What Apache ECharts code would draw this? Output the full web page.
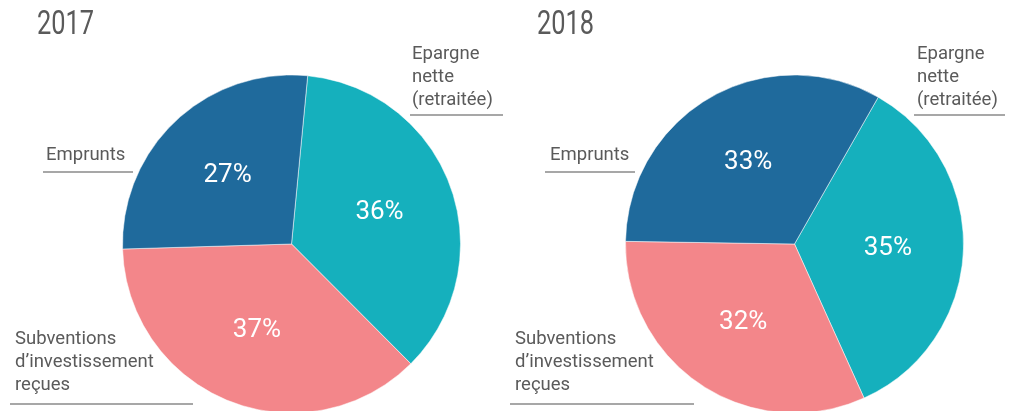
<!DOCTYPE html>
<html>
<head>
<meta charset="utf-8">
<script src="https://cdn.jsdelivr.net/npm/echarts@6/dist/echarts.min.js"></script>
<style>
  html, body { margin: 0; padding: 0; background: #fff; }
  #chart { width: 1009px; height: 411px; }
</style>
</head>
<body>
<div id="chart"></div>
<script>
// données
const years = ['2017', '2018'];
const categories = ['Epargne nette (retraitée)', 'Subventions d’investissement reçues', 'Emprunts'];
const categoryLabels = ['Epargne\nnette\n(retraitée)', 'Subventions\nd’investissement\nreçues', 'Emprunts'];
const values2017 = [36, 37, 27];
const values2018 = [35, 32, 33];
const colors = ['#15b0bd', '#f3868a', '#1f6a9c'];

const chart = echarts.init(document.getElementById('chart'), null, { renderer: 'canvas' });

const labelFont = "Roboto, 'Noto Sans', sans-serif";
const grey = '#5a5a5a';

function buildData(values) {
  return categories.map((name, i) => ({
    name: name,
    value: values[i],
    itemStyle: { color: colors[i] }
  }));
}

// deux séries par camembert : une pour les parts, une transparente pour placer les %
function pieSeries(values, center, startAngle) {
  return [
    {
      type: 'pie',
      center: center,
      radius: [0, 169],
      startAngle: startAngle,
      clockwise: true,
      silent: true,
      animation: false,
      data: buildData(values),
      itemStyle: { borderColor: '#ffffff', borderWidth: 0.5 },
      label: { show: false },
      labelLine: { show: false }
    },
    {
      type: 'pie',
      center: center,
      radius: [12, 169],
      startAngle: startAngle,
      clockwise: true,
      silent: true,
      animation: false,
      data: buildData(values).map(d => ({ name: d.name, value: d.value, itemStyle: { color: 'transparent' } })),
      label: {
        show: true,
        position: 'inside',
        formatter: '{c}%',
        color: '#ffffff',
        fontSize: 26,
        fontFamily: labelFont
      },
      labelLine: { show: false }
    }
  ];
}

// annotations (texte + trait) autour de chaque camembert
function annotations(offsets) {
  const out = [];
  offsets.forEach(o => {
    out.push({
      type: 'text',
      left: o.x, top: o.y,
      silent: true,
      style: {
        text: categoryLabels[o.i],
        fill: grey,
        fontSize: 18.5,
        fontFamily: labelFont,
        lineHeight: 23
      }
    });
    out.push({
      type: 'line',
      silent: true,
      shape: { x1: o.lx1, y1: o.ly, x2: o.lx2, y2: o.ly },
      style: { stroke: '#8a8a8a', lineWidth: 1.5 }
    });
  });
  return out;
}

function yearTitle(text, x) {
  return {
    type: 'text', x: x, y: 9, scaleX: 0.77, silent: true,
    style: { text: text, x: 0, y: 0, fill: grey, fontSize: 33, fontFamily: labelFont }
  };
}

const option = {
  backgroundColor: '#ffffff',
  animation: false,
  graphic: [
    yearTitle(years[0], 37),
    yearTitle(years[1], 537)
  ].concat(annotations([
    { i: 0, x: 412, y: 43, lx1: 410, lx2: 503, ly: 115 },
    { i: 1, x: 15, y: 328, lx1: 10, lx2: 193, ly: 404 },
    { i: 2, x: 46, y: 144, lx1: 43, lx2: 133, ly: 172 },
    { i: 0, x: 917, y: 43, lx1: 914, lx2: 1005, ly: 115 },
    { i: 1, x: 515, y: 328, lx1: 510, lx2: 694, ly: 404 },
    { i: 2, x: 550, y: 144, lx1: 545, lx2: 635, ly: 172 }
  ])),
  series: [].concat(
    pieSeries(values2017, [291.5, 244], 84.5),
    pieSeries(values2018, [794.5, 244], 60.3)
  )
};

chart.setOption(option);
</script>
</body>
</html>
